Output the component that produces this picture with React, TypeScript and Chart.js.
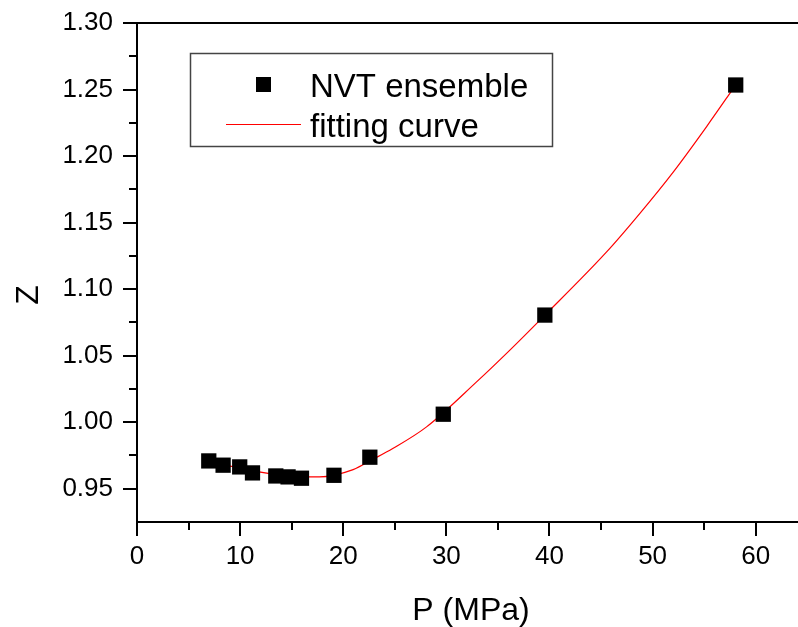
import React, { useEffect, useRef } from "react";
import { Chart, registerables } from "chart.js";

Chart.register(...registerables);

// ---- data ----
const NVT_LABEL = "NVT ensemble";
const FIT_LABEL = "fitting curve";
const X_TITLE = "P (MPa)";
const Y_TITLE = "Z";

const NVT_P = [6.96, 8.35, 9.96, 11.2, 13.46, 14.65, 15.95, 19.1, 22.58, 29.7, 39.55, 58.06];
const NVT_Z = [0.9709, 0.9677, 0.9664, 0.9619, 0.9596, 0.9589, 0.9579, 0.9601, 0.9737, 1.006, 1.0805, 1.2534];

const FIT_P = [6.96, 9.64, 12.87, 15.79, 17.7, 20.96, 22.9, 24.8, 28.08, 32.93, 36.16, 39.39, 45.54, 48.77, 52.0, 55.24, 58.0];
const FIT_Z = [0.9709, 0.9659, 0.9614, 0.9589, 0.9589, 0.9644, 0.9722, 0.9802, 0.9965, 1.0303, 1.0542, 1.0792, 1.128, 1.157, 1.188, 1.2222, 1.2528];

const X_TICKS = [0, 10, 20, 30, 40, 50, 60];
const X_MINOR = [5, 15, 25, 35, 45, 55];
const Y_TICKS = [0.95, 1.0, 1.05, 1.1, 1.15, 1.2, 1.25, 1.3];
const Y_MINOR = [0.975, 1.025, 1.075, 1.125, 1.175, 1.225, 1.275];

const X_MIN = 0;
const X_MAX = 64.1;
const Y_MIN = 0.925;
const Y_MAX = 1.3;

const FONT = '"Liberation Sans", Arial, Helvetica, sans-serif';

const decorPlugin = {
  id: "decor",
  afterDraw(chart: any) {
    const { ctx, chartArea: ca, scales } = chart;
    const xs = scales.x;
    const ys = scales.y;
    ctx.save();
    ctx.strokeStyle = "#000";
    ctx.lineWidth = 2;
    const seg = (x1: number, y1: number, x2: number, y2: number) => {
      ctx.beginPath();
      ctx.moveTo(x1, y1);
      ctx.lineTo(x2, y2);
      ctx.stroke();
    };
    // top frame line
    seg(ca.left - 1, ca.top, ca.right, ca.top);
    // ticks (outward)
    X_TICKS.forEach((v) => {
      const p = Math.round(xs.getPixelForValue(v));
      seg(p, ca.bottom, p, ca.bottom + 14);
    });
    X_MINOR.forEach((v) => {
      const p = Math.round(xs.getPixelForValue(v));
      seg(p, ca.bottom, p, ca.bottom + 8);
    });
    Y_TICKS.forEach((v) => {
      const p = Math.round(ys.getPixelForValue(v));
      seg(ca.left, p, ca.left - 14, p);
    });
    Y_MINOR.forEach((v) => {
      const p = Math.round(ys.getPixelForValue(v));
      seg(ca.left, p, ca.left - 8, p);
    });

    // axis titles
    ctx.fillStyle = "#000";
    ctx.font = `32px ${FONT}`;
    ctx.textAlign = "center";
    ctx.textBaseline = "alphabetic";
    ctx.fillText(X_TITLE, 471, 620);
    ctx.save();
    ctx.translate(38, 295);
    ctx.rotate(-Math.PI / 2);
    ctx.fillText(Y_TITLE, 0, 0);
    ctx.restore();

    // legend box
    const ds0 = chart.data.datasets[0];
    const ds1 = chart.data.datasets[1];
    ctx.strokeStyle = "#444";
    ctx.lineWidth = 1.5;
    ctx.strokeRect(190.5, 53.5, 362, 93);
    ctx.fillStyle = ds0.backgroundColor;
    ctx.fillRect(256, 77, 15, 15);
    ctx.strokeStyle = ds1.borderColor;
    ctx.lineWidth = 1;
    seg(226, 124.5, 301, 124.5);
    ctx.fillStyle = "#000";
    ctx.font = `33px ${FONT}`;
    ctx.textAlign = "left";
    ctx.fillText(ds0.label, 310, 96.5);
    ctx.fillText(ds1.label, 310, 137);
    ctx.restore();
  },
};

export default function App() {
  const ref = useRef<HTMLCanvasElement | null>(null);

  useEffect(() => {
    if (!ref.current) return;
    const chart = new Chart(ref.current, {
      type: "scatter",
      data: {
        datasets: [
          {
            label: NVT_LABEL,
            data: NVT_P.map((p, i) => ({ x: p, y: NVT_Z[i] })),
            backgroundColor: "#000000",
            borderColor: "#000000",
            borderWidth: 0,
            pointStyle: "rect",
            pointRadius: 10.8,
            pointHoverRadius: 10.8,
            showLine: false,
            order: 0,
          },
          {
            label: FIT_LABEL,
            data: FIT_P.map((p, i) => ({ x: p, y: FIT_Z[i] })),
            borderColor: "#ff0000",
            backgroundColor: "#ff0000",
            borderWidth: 1.2,
            pointRadius: 0,
            pointHoverRadius: 0,
            showLine: true,
            cubicInterpolationMode: "monotone",
            fill: false,
            order: 1,
          },
        ],
      },
      options: {
        responsive: false,
        animation: false,
        devicePixelRatio: 1,
        layout: { autoPadding: false, padding: { left: 0, top: 23, right: 0, bottom: 0 } },
        plugins: {
          legend: { display: false },
          tooltip: { enabled: false },
        },
        scales: {
          x: {
            type: "linear",
            min: X_MIN,
            max: X_MAX,
            afterBuildTicks: (axis: any) => {
              axis.ticks = X_TICKS.map((v) => ({ value: v }));
            },
            afterFit: (axis: any) => {
              axis.height = 105;
              axis.paddingLeft = 0;
              axis.paddingRight = 0;
              axis.paddingTop = 0;
              axis.paddingBottom = 0;
            },
            grid: { display: false, drawTicks: false },
            border: { display: true, color: "#000", width: 2 },
            ticks: {
              padding: 19,
              color: "#000",
              font: { family: FONT, size: 26 },
              maxRotation: 0,
              autoSkip: false,
              callback: (v: any) => String(v),
            },
          },
          y: {
            type: "linear",
            min: Y_MIN,
            max: Y_MAX,
            afterBuildTicks: (axis: any) => {
              axis.ticks = Y_TICKS.map((v) => ({ value: v }));
            },
            afterFit: (axis: any) => {
              axis.width = 137;
              axis.paddingLeft = 0;
              axis.paddingRight = 0;
              axis.paddingTop = 0;
              axis.paddingBottom = 0;
            },
            grid: { display: false, drawTicks: false },
            border: { display: true, color: "#000", width: 2 },
            ticks: {
              padding: 24,
              color: "#000",
              font: { family: FONT, size: 26 },
              autoSkip: false,
              callback: (v: any) => Number(v).toFixed(2),
            },
          },
        },
      },
      plugins: [decorPlugin],
    });
    return () => chart.destroy();
  }, []);

  return (
    <div style={{ position: "fixed", left: 0, top: 0, width: 798, height: 627, background: "#fff" }}>
      <canvas ref={ref} width={798} height={627} style={{ display: "block" }} />
    </div>
  );
}
